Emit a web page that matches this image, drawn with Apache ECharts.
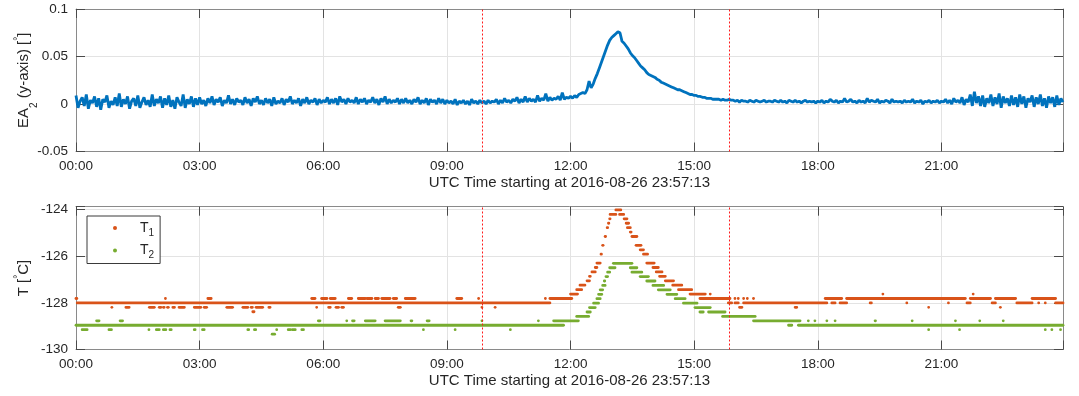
<!DOCTYPE html>
<html>
<head>
<meta charset="utf-8">
<script src="https://cdn.jsdelivr.net/npm/echarts@6/dist/echarts.min.js"></script>
<style>
html,body{margin:0;padding:0;background:#fff;}
#chart{width:1079px;height:396px;}
</style>
</head>
<body>
<div id="chart"></div>
<script>
// ---------------- DATA ----------------
const xAxisTitle = 'UTC Time starting at 2016-08-26 23:57:13';
const hourTickStep = 3;
const xMaxHour = 23.95;
const eventHours = [9.86, 15.86];

// EA2 (y-axis), sampled every 0.05 h from 00:00, values in thousandths of a degree
const eaStartHour = 0;
const eaStepHour = 0.05;
const ea2Milli = [
  9,-4,3,7,-2,10,-5,4,1,8,-3,6,-6,5,2,9,-4,3,-1,7,
  -2,11,-3,5,0,8,-5,3,6,-2,9,-4,2,7,-1,4,-3,10,-2,5,
  1,8,-4,6,-1,9,-3,4,-5,7,2,-2,10,-4,5,0,8,-3,6,-1,
  7,0,4,-2,6,1,8,-1,5,2,7,-2,4,1,9,0,5,-1,6,2,
  4,-1,7,1,5,-2,6,2,8,0,4,-1,6,1,5,-2,7,0,3,1,
  6,-1,5,2,8,0,4,1,6,-2,5,1,7,0,4,2,6,-1,5,1,
  4,2,7,0,5,1,6,-1,8,2,5,0,6,2,4,1,7,0,5,2,
  6,0,4,2,7,1,5,-1,6,2,8,0,5,1,4,2,6,0,5,1,
  6,1,4,0,5,2,7,0,4,1,6,-1,5,2,4,0,6,1,5,0,
  4,1,3,0,5,-1,3,1,4,0,3,-1,5,1,3,0,4,1,3,0,
  4,1,3,2,5,0,4,1,6,2,4,1,5,3,7,1,5,2,8,2,
  6,3,5,2,9,3,6,4,11,3,7,4,6,5,8,4,12,5,7,6,
  8,6,9,7,10,11,12,11,15,24,17,21,27,32,38,44,50,56,62,67,
  70,72,74,76,75,66,64,61,58,54,51,49,46,43,40,38,36,33,31,30,
  29,28,26,25,23,22,21,20,19,18,17,16,15,15,14,13,12,11,10,10,
  9,9,8,8,7,7,6,6,6,5,5,5,5,4,5,4,4,5,4,4,
  3,4,2,4,3,3,2,4,3,2,4,3,2,3,4,2,3,3,2,4,
  3,2,4,2,3,1,4,3,2,4,2,3,1,3,4,2,3,2,3,1,
  3,2,4,1,3,2,5,3,2,4,1,3,2,6,2,3,5,2,3,1,
  4,2,3,1,6,2,4,3,2,5,1,3,2,4,3,1,5,2,3,2,
  3,1,4,2,3,2,5,1,3,2,4,0,3,2,4,1,3,2,4,1,
  3,2,5,1,4,0,6,2,4,1,7,-1,5,2,10,-2,13,1,8,-2,
  9,-3,6,1,10,-2,7,0,11,-4,8,1,6,-2,9,-1,7,-3,10,0,
  8,-4,6,2,9,-3,7,0,10,-2,6,-4,8,1,7,-3,9,-1,6,2
];

// Temperature runs: [startHour, endHour, T in °C]
const t1Runs = [
  [0.03,11.50,-128.00],[15.83,15.91,-128.00],[15.99,16.07,-128.00],[16.20,18.22,-128.00],[18.34,18.42,-128.00],
  [18.54,18.70,-128.00],[19.27,19.30,-128.00],[20.16,20.16,-128.00],[21.17,21.17,-128.00],[21.62,21.70,-128.00],
  [22.23,22.31,-128.00],[22.83,23.20,-128.00],[23.36,23.36,-128.00],[23.52,23.52,-128.00],[23.77,23.95,-128.00],
  [0.00,0.02,-127.81],[2.17,2.17,-127.81],[3.20,3.28,-127.81],[5.72,5.80,-127.81],[5.96,6.09,-127.81],
  [6.17,6.29,-127.81],[6.61,6.69,-127.81],[6.85,7.02,-127.81],[7.06,7.18,-127.81],[7.26,7.34,-127.81],
  [7.42,7.62,-127.81],[7.70,7.78,-127.81],[7.99,8.23,-127.81],[9.24,9.36,-127.81],[9.77,9.77,-127.81],
  [11.39,11.39,-127.81],[11.50,12.03,-127.81],[15.14,15.87,-127.81],[15.99,15.99,-127.81],[16.07,16.07,-127.81],
  [16.20,16.20,-127.81],[16.29,16.29,-127.81],[16.44,16.44,-127.81],[18.18,18.58,-127.81],[18.70,21.58,-127.81],
  [21.70,22.19,-127.81],[22.31,22.80,-127.81],[23.20,23.77,-127.81],
  [12.00,12.17,-127.62],[14.90,15.27,-127.62],[15.39,15.39,-127.62],[19.58,19.58,-127.62],[21.77,21.77,-127.62],
  [12.15,12.27,-127.43],[12.23,12.35,-127.24],[12.40,12.46,-127.05],[12.46,12.48,-126.86],[12.52,12.60,-126.67],
  [12.60,12.64,-126.48],[12.64,12.72,-126.29],[12.74,12.75,-125.91],[12.78,12.79,-125.53],[12.84,12.85,-125.15],
  [12.89,12.90,-124.77],[12.92,12.93,-124.58],[12.95,12.96,-124.39],[12.96,13.10,-124.20],[13.10,13.22,-124.01],
  [13.19,13.29,-124.20],[13.30,13.37,-124.39],[13.35,13.41,-124.58],[13.38,13.45,-124.77],[13.45,13.47,-124.96],
  [13.49,13.61,-125.15],[13.59,13.71,-125.53],[13.69,13.77,-125.72],[13.77,13.87,-125.91],[13.85,14.03,-126.29],
  [14.00,14.13,-126.48],[14.08,14.22,-126.67],[14.16,14.30,-126.86],[14.30,14.50,-127.05],[14.48,14.70,-127.24],
  [14.62,14.94,-127.43],
  [0.87,0.87,-128.19],[1.21,1.29,-128.19],[1.78,1.90,-128.19],[2.02,2.06,-128.19],[2.12,2.14,-128.19],
  [2.22,2.24,-128.19],[2.35,2.39,-128.19],[2.50,2.63,-128.19],[2.87,3.03,-128.19],[3.11,3.17,-128.19],
  [3.66,3.80,-128.19],[4.05,4.17,-128.19],[4.25,4.28,-128.19],[4.37,4.53,-128.19],[4.68,4.71,-128.19],
  [5.84,5.84,-128.19],[6.13,6.17,-128.19],[6.31,6.37,-128.19],[6.45,6.49,-128.19],[7.82,7.87,-128.19],
  [9.85,9.85,-128.19],[10.17,10.17,-128.19],[16.10,16.16,-128.19],[17.45,17.49,-128.19],[20.69,20.69,-128.19],
  [22.43,22.43,-128.19],
  [4.29,4.32,-128.38]
];

const t2Runs = [
  [0.00,11.83,-128.96],[17.29,17.37,-128.96],[17.53,23.95,-128.96],
  [0.50,0.56,-128.77],[1.07,1.13,-128.77],[5.88,5.92,-128.77],[6.57,6.57,-128.77],[6.71,6.75,-128.77],
  [7.02,7.26,-128.77],[7.50,7.87,-128.77],[8.13,8.15,-128.77],[8.52,8.57,-128.77],[9.85,9.85,-128.77],
  [11.22,11.22,-128.77],[11.59,12.19,-128.77],[16.44,17.57,-128.77],[17.77,17.77,-128.77],[17.93,17.93,-128.77],
  [18.22,18.22,-128.77],[18.42,18.42,-128.77],[19.39,19.40,-128.77],[20.29,20.29,-128.77],[21.34,21.34,-128.77],
  [21.93,21.93,-128.77],[22.50,22.50,-128.77],
  [12.15,12.44,-128.58],[15.69,16.48,-128.58],
  [12.40,12.48,-128.39],[15.14,15.22,-128.39],[15.35,15.75,-128.39],
  [12.46,12.60,-128.20],[15.02,15.39,-128.20],
  [12.56,12.68,-128.01],[14.74,15.07,-128.01],
  [12.64,12.72,-127.82],[14.54,14.78,-127.82],
  [12.68,12.76,-127.63],[14.34,14.58,-127.63],
  [12.72,12.78,-127.44],[14.13,14.42,-127.44],
  [12.78,12.84,-127.25],[14.00,14.26,-127.25],
  [12.82,12.83,-127.06],[13.85,14.05,-127.06],
  [12.86,12.90,-126.87],[13.69,13.89,-126.87],
  [12.90,12.95,-126.68],[13.49,13.73,-126.68],
  [12.95,13.08,-126.49],[13.45,13.61,-126.49],
  [13.04,13.49,-126.30],
  [0.15,0.27,-129.15],[0.80,0.86,-129.15],[1.77,1.77,-129.15],[1.95,2.02,-129.15],[2.12,2.18,-129.15],
  [2.28,2.31,-129.15],[2.87,2.89,-129.15],[3.07,3.11,-129.15],[4.17,4.19,-129.15],[4.33,4.36,-129.15],
  [4.87,4.87,-129.15],[5.15,5.20,-129.15],[5.25,5.32,-129.15],[5.48,5.52,-129.15],[8.43,8.43,-129.15],
  [9.20,9.20,-129.15],[10.54,10.54,-129.15],[20.69,20.69,-129.15],[21.44,21.44,-129.15],[23.52,23.52,-129.15],
  [23.68,23.68,-129.15],[23.89,23.89,-129.15],
  [4.76,4.82,-129.34]
];

// ---------------- STYLE / OPTION ----------------
const FONT = '"Liberation Sans", Arial, Helvetica, sans-serif';
const TXT = '#262626';
const BOX = '#8a8a8a';
const TICK = '#4a4a4a';
const GRIDLINE = '#e3e3e3';
const C_BLUE = '#0072BD', C_ORANGE = '#D95319', C_GREEN = '#77AC30';

function hourLabel(v) {
  const r = Math.round(v);
  if (Math.abs(v - r) > 1e-6 || r % hourTickStep !== 0) return '';
  return (r < 10 ? '0' : '') + r + ':00';
}
function evenLabel(v) {
  const r = Math.round(v);
  if (Math.abs(v - r) > 1e-6 || r % 2 !== 0) return '';
  return String(r);
}
function eaLabel(v) {
  if (Math.abs(v) < 1e-9) return '0';
  return String(+v.toFixed(3));
}

const nameRich = {
  sub: { fontSize: 10, lineHeight: 10, verticalAlign: 'bottom', fontFamily: FONT, color: TXT },
  sup: { fontSize: 10, lineHeight: 10, verticalAlign: 'top', padding: [4, 0, 0, 0], fontFamily: FONT, color: TXT }
};

function xAxes(gi) {
  return [{
    gridIndex: gi, type: 'value', position: 'bottom', min: 0, max: xMaxHour, interval: hourTickStep,
    axisLine: { show: true, onZero: false, lineStyle: { color: BOX, width: 1 } },
    axisTick: { show: true, inside: true, length: 9, lineStyle: { color: TICK, width: 1 } },
    axisLabel: { formatter: hourLabel, color: TXT, fontFamily: FONT, fontSize: 13.5, margin: 8 },
    splitLine: { show: true, lineStyle: { color: GRIDLINE, width: 1 } },
    name: xAxisTitle, nameLocation: 'middle', nameGap: 24, nameMoveOverlap: false,
    nameTextStyle: { color: TXT, fontFamily: FONT, fontSize: 15 }
  }, {
    gridIndex: gi, type: 'value', position: 'top', min: 0, max: xMaxHour, interval: hourTickStep,
    axisLine: { show: true, onZero: false, lineStyle: { color: BOX, width: 1 } },
    axisTick: { show: true, inside: true, length: 9, lineStyle: { color: TICK, width: 1 } },
    axisLabel: { show: false }, splitLine: { show: false }
  }];
}
function yAxes(gi, min, max, interval, fmt, nameStr) {
  return [{
    gridIndex: gi, type: 'value', position: 'left', min: min, max: max, interval: interval,
    axisLine: { show: true, onZero: false, lineStyle: { color: BOX, width: 1 } },
    axisTick: { show: true, inside: true, length: 9, lineStyle: { color: TICK, width: 1 } },
    axisLabel: { formatter: fmt, color: TXT, fontFamily: FONT, fontSize: 13.5, margin: 8 },
    splitLine: { show: true, lineStyle: { color: GRIDLINE, width: 1 } },
    name: nameStr, nameLocation: 'middle', nameGap: 37, nameMoveOverlap: false,
    nameTextStyle: { color: TXT, fontFamily: FONT, fontSize: 15, lineHeight: 30, rich: nameRich }
  }, {
    gridIndex: gi, type: 'value', position: 'right', min: min, max: max, interval: interval,
    axisLine: { show: true, onZero: false, lineStyle: { color: BOX, width: 1 } },
    axisTick: { show: true, inside: true, length: 9, lineStyle: { color: TICK, width: 1 } },
    axisLabel: { show: false }, splitLine: { show: false }
  }];
}

function runItem(params, api) {
  const a = api.coord([api.value(0), api.value(2)]);
  const b = api.coord([api.value(1), api.value(2)]);
  const r = 1.4;
  return {
    type: 'rect',
    shape: { x: a[0] - r, y: a[1] - r, width: (b[0] - a[0]) + 2 * r, height: 2 * r, r: r },
    style: { fill: api.visual('color') }
  };
}

const eventMarkLine = {
  silent: true, symbol: ['none', 'none'], animation: false,
  label: { show: false },
  lineStyle: { color: '#ff1a1a', type: [2, 2], width: 1 },
  data: eventHours.map(h => ({ xAxis: h }))
};

const eaData = ea2Milli.map((v, i) => [eaStartHour + i * eaStepHour, v / 1000]);

const option = {
  animation: false,
  backgroundColor: '#fff',
  textStyle: { fontFamily: FONT },
  grid: [
    { left: 76, right: 16, top: 9, height: 142.5, containLabel: false, outerBoundsMode: 'none' },
    { left: 76, right: 16, top: 206.7, height: 142.8, containLabel: false, outerBoundsMode: 'none' }
  ],
  xAxis: [...xAxes(0), ...xAxes(1)],
  yAxis: [
    ...yAxes(0, -0.05, 0.1, 0.05, eaLabel, 'EA{sub|2} (y-axis) [{sup|°}]'),
    ...yAxes(1, -130, -123.87, 2, evenLabel, 'T [{sup|°}C]')
  ],
  legend: {
    orient: 'vertical', left: 87, top: 216,
    padding: [2, 6, 3, 26], itemGap: 2.5, itemWidth: 4, itemHeight: 4,
    backgroundColor: '#fff', borderColor: '#3a3a3a', borderWidth: 1,
    data: [{ name: 'T1', icon: 'circle' }, { name: 'T2', icon: 'circle' }],
    formatter: n => '{g| }T{sub|' + n.slice(1) + '}',
    textStyle: {
      color: TXT, fontFamily: FONT, fontSize: 14, lineHeight: 20,
      rich: {
        g: { width: 18, fontSize: 14, lineHeight: 20 },
        sub: { fontSize: 10, lineHeight: 8, verticalAlign: 'bottom', color: TXT, fontFamily: FONT }
      }
    }
  },
  series: [
    {
      name: 'EA2', type: 'line', xAxisIndex: 0, yAxisIndex: 0, data: eaData,
      showSymbol: false, symbol: 'none',
      lineStyle: { color: C_BLUE, width: 2.8 }, itemStyle: { color: C_BLUE },
      markLine: eventMarkLine, z: 3
    },
    {
      name: 'T1', type: 'custom', xAxisIndex: 2, yAxisIndex: 2, data: t1Runs,
      encode: { x: [0, 1], y: 2 }, renderItem: runItem, itemStyle: { color: C_ORANGE }, z: 3
    },
    {
      name: 'T2', type: 'custom', xAxisIndex: 2, yAxisIndex: 2, data: t2Runs,
      encode: { x: [0, 1], y: 2 }, renderItem: runItem, itemStyle: { color: C_GREEN }, z: 3
    },
    {
      name: 'events', type: 'line', xAxisIndex: 2, yAxisIndex: 2, data: [],
      markLine: eventMarkLine, z: 4
    }
  ]
};

const chart = echarts.init(document.getElementById('chart'), null, { renderer: 'canvas' });
chart.setOption(option);
</script>
</body>
</html>
